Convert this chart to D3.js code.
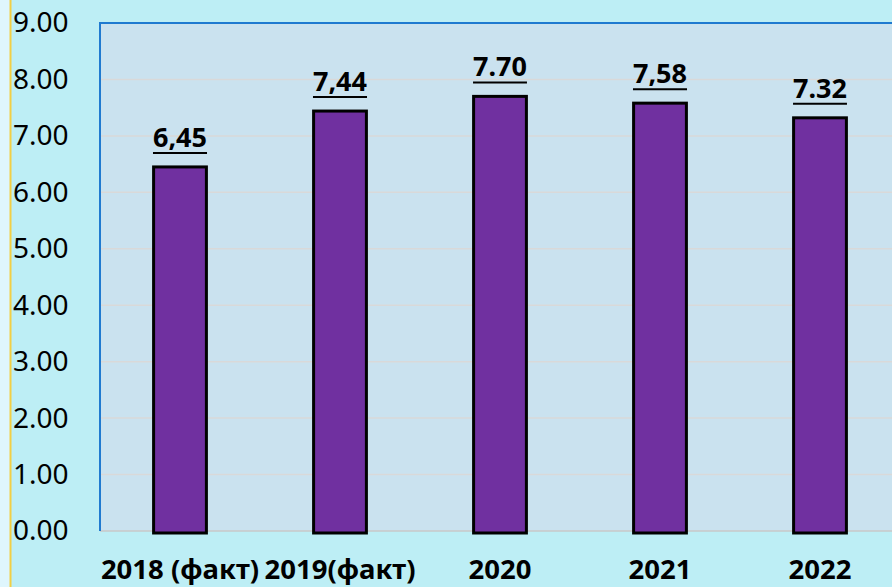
<!DOCTYPE html>
<html lang="ru">
<head>
<meta charset="UTF-8">
<title>Chart</title>
<script src="https://d3js.org/d3.v7.min.js"></script>
<style>
    body { margin: 0; background: #bdeef5; }
    svg { display: block; }
    .ytick text { font-family: "Noto Sans", sans-serif; font-size: 28px; fill: #000; }
    .xtick text { font-family: "Noto Sans", sans-serif; font-size: 27.5px; font-weight: bold; fill: #000; }
    .value { font-family: "Noto Sans", sans-serif; font-size: 27px; font-weight: bold; fill: #000; }
</style>
</head>
<body>
<script>
    const categories = ["2018 (факт)", "2019(факт)", "2020", "2021", "2022"];
    const values = [6.45, 7.44, 7.70, 7.58, 7.32];
    const valueLabels = ["6,45", "7,44", "7.70", "7,58", "7.32"];
    const yTicks = [0, 1, 2, 3, 4, 5, 6, 7, 8, 9];

    const width = 892, height = 587;
    const m = {top: 23, left: 100, bottom: 56, right: -8};

    const svg = d3.select("body").append("svg")
        .attr("width", width)
        .attr("height", height);

    // left light strip with yellow edge
    svg.append("rect").attr("x", 0).attr("y", 0).attr("width", 10).attr("height", height).attr("fill", "#dff6fd");
    svg.append("line").attr("x1", 10.5).attr("x2", 10.5).attr("y1", 0).attr("y2", height)
        .attr("stroke", "#f2cf45").attr("stroke-width", 2);

    const x = d3.scaleBand()
        .domain(categories)
        .range([m.left, width - m.right])
        .paddingInner(0.67)
        .paddingOuter(0.335);

    const y = d3.scaleLinear()
        .domain([0, 9])
        .range([height - m.bottom, m.top]);

    // plot area
    svg.append("rect")
        .attr("x", m.left).attr("y", y(9))
        .attr("width", width - m.left + 10).attr("height", y(0) - y(9))
        .attr("fill", "#cae2ef");

    // gridlines
    svg.append("g").selectAll("line")
        .data(yTicks.filter(d => d > 0 && d < 9))
        .enter().append("line")
        .attr("x1", m.left).attr("x2", width)
        .attr("y1", d => y(d)).attr("y2", d => y(d))
        .attr("stroke", "#d9d9d9").attr("stroke-width", 1.5);

    // bottom axis line
    svg.append("line")
        .attr("x1", m.left).attr("x2", width)
        .attr("y1", y(0)).attr("y2", y(0))
        .attr("stroke", "#c8c8c8").attr("stroke-width", 1.5);

    // blue border left and top
    svg.append("path")
        .attr("d", `M${m.left},${y(0)}V${y(9)}H${width}`)
        .attr("fill", "none")
        .attr("stroke", "#1f7ad0")
        .attr("stroke-width", 2);

    // y axis labels
    const yAxis = d3.axisLeft(y).tickValues(yTicks).tickSize(0).tickFormat(d3.format(".2f"));
    const yg = svg.append("g").attr("class", "ytick")
        .attr("transform", `translate(${m.left},0)`)
        .call(yAxis);
    yg.select(".domain").remove();
    yg.selectAll("text").attr("text-anchor", "start").attr("x", -87);

    // bars
    svg.append("g").selectAll("rect")
        .data(values)
        .enter().append("rect")
        .attr("x", (d, i) => x(categories[i]))
        .attr("y", d => y(d))
        .attr("width", x.bandwidth())
        .attr("height", d => y(0) - y(d) + 2)
        .attr("fill", "#7030a0")
        .attr("stroke", "#000")
        .attr("stroke-width", 3);

    // value labels
    const lbl = svg.append("g").selectAll("g")
        .data(values)
        .enter().append("g");
    lbl.append("text")
        .attr("class", "value")
        .attr("x", (d, i) => x(categories[i]) + x.bandwidth() / 2)
        .attr("y", d => y(d) - 20)
        .attr("text-anchor", "middle")
        .text((d, i) => valueLabels[i]);
    lbl.each(function() {
        const g = d3.select(this);
        const b = g.select("text").node().getBBox();
        g.append("line")
            .attr("x1", b.x).attr("x2", b.x + b.width)
            .attr("y1", +g.select("text").attr("y") + 6)
            .attr("y2", +g.select("text").attr("y") + 6)
            .attr("stroke", "#000").attr("stroke-width", 2);
    });

    // x axis labels
    const xAxis = d3.axisBottom(x).tickSize(0);
    const xg = svg.append("g").attr("class", "xtick")
        .attr("transform", `translate(0,${y(0)})`)
        .call(xAxis);
    xg.select(".domain").remove();
    xg.selectAll("text").attr("y", 48).attr("dy", 0);
</script>
</body>
</html>
